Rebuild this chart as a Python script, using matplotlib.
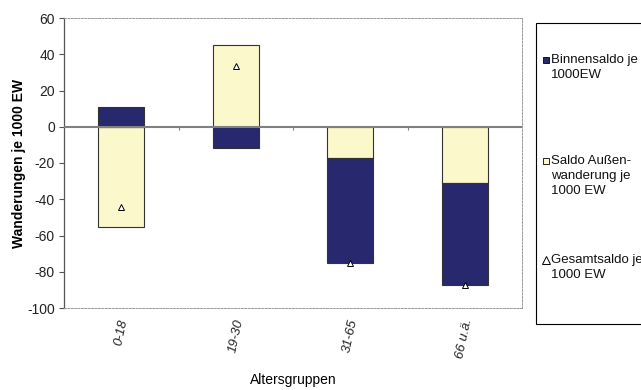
import matplotlib
matplotlib.use("Agg")
import matplotlib.pyplot as plt
from matplotlib.patches import Rectangle
from matplotlib.lines import Line2D
import numpy as np

plt.rcParams['font.family'] = ['Liberation Sans', 'DejaVu Sans']
plt.rcParams['axes.unicode_minus'] = False

categories = ["0-18", "19-30", "31-65", "66 u.ä."]
binnen = [11.0, -11.8, -57.9, -56.4]
aussen = [-55.5, 45.2, -17.3, -31.1]
gesamt = [b + a for b, a in zip(binnen, aussen)]

navy = "#27286e"
cream = "#fbf8cc"
edge = "#333333"

W, H = 641, 390
fig = plt.figure(figsize=(W / 100, H / 100), dpi=100)
ax = fig.add_axes([64 / W, 1 - 308 / H, (522 - 64) / W, (308 - 18) / H])

x = np.arange(len(categories))
w = 0.4

# Outer-migration segment sits next to zero; inner segment stacks beyond it when same sign
b_bottom = []
for b, a in zip(binnen, aussen):
    b_bottom.append(a if (a < 0 and b < 0) or (a > 0 and b > 0) else 0)
ax.bar(x, aussen, w, color=cream, edgecolor=edge, linewidth=0.8, zorder=2)
ax.bar(x, binnen, w, bottom=b_bottom, color=navy, edgecolor=edge, linewidth=0.8, zorder=2)
ax.plot(x, gesamt, linestyle="none", marker="^", markersize=5, markerfacecolor="white",
        markeredgecolor="black", markeredgewidth=0.7, zorder=4)

ax.set_xlim(-0.5, len(categories) - 0.5)
ax.set_ylim(-100, 60)
ax.set_yticks(np.arange(-100, 61, 20))
ax.tick_params(axis="y", labelsize=10, length=3.5, width=0.8, color="#555555",
               labelcolor="#222222", pad=3)

# zero line with category separators
ax.axhline(0, color="#808080", linewidth=1.5, zorder=3)
bounds = np.arange(len(categories) + 1) - 0.5
ax.vlines(bounds[1:-1], -1.8, 0, color="#808080", linewidth=0.8, zorder=3)

ax.set_xticks(x)
ax.set_xticklabels(categories, rotation=78, style="italic", fontsize=9.5, color="#222222")
ax.tick_params(axis="x", length=0, pad=7)

for s in ["top", "right", "bottom"]:
    ax.spines[s].set_linestyle((0, (2, 1.5)))
    ax.spines[s].set_color("#999999")
    ax.spines[s].set_linewidth(0.7)
ax.spines["left"].set_color("#555555")
ax.spines["left"].set_linewidth(0.9)

ax.set_ylabel("Wanderungen je 1000 EW", fontsize=10, fontweight="bold", labelpad=1)
fig.text((64 + 522) / 2 / W, 1 - 380 / H, "Altersgruppen", ha="center", va="center", fontsize=10)

# legend frame
fig.patches.append(Rectangle((536 / W, 1 - 324 / H), 0.3, (324 - 23) / H,
                             transform=fig.transFigure, facecolor="white",
                             edgecolor="black", linewidth=0.8))

legend_items = [
    ("square", navy, ["Binnensaldo je", "1000EW"], 60),
    ("square", cream, ["Saldo Außen-", "wanderung je", "1000 EW"], 161),
    ("triangle", None, ["Gesamtsaldo je", "1000 EW"], 260),
]
line_step = 15
for kind, color, lines, ytop in legend_items:
    if kind == "square":
        fig.patches.append(Rectangle((542.5 / W, 1 - (ytop + 3.3) / H), 6.5 / W, 6.5 / H,
                                     transform=fig.transFigure, facecolor=color,
                                     edgecolor="black", linewidth=0.6))
    else:
        fig.lines.append(Line2D([545.8 / W], [1 - ytop / H], transform=fig.transFigure,
                                linestyle="none", marker="^", markersize=5.5,
                                markerfacecolor="white", markeredgecolor="black",
                                markeredgewidth=0.7))
    for i, line in enumerate(lines):
        fig.text(551 / W, 1 - (ytop + i * line_step) / H, line, ha="left", va="center",
                 fontsize=9.5, color="#111111")

fig.savefig("out.png", dpi=100)
